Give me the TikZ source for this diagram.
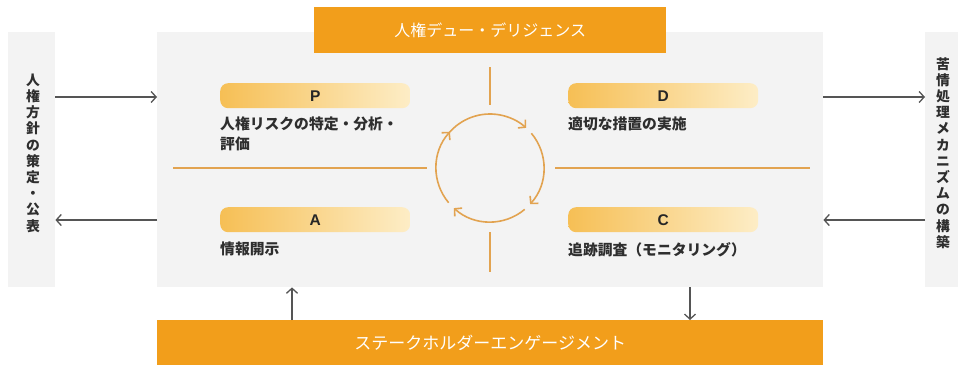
\documentclass[tikz,border=0pt]{standalone}
\usepackage{fontspec}
\setmainfont{Noto Sans CJK JP}
\newfontfamily\latinb{Liberation Sans}
\usetikzlibrary{arrows.meta,calc}
\definecolor{orangebar}{HTML}{F29E1B}
\definecolor{panel}{HTML}{F3F3F3}
\definecolor{gradL}{HTML}{F6BF55}
\definecolor{gradR}{HTML}{FDEDC6}
\definecolor{cyc}{HTML}{E2A350}
\definecolor{ink}{HTML}{2E2E2E}
\definecolor{arrowgray}{HTML}{555555}
\begin{document}
\begin{tikzpicture}[x=1pt,y=-1pt,
  panelbox/.style={fill=panel, draw=none, inner sep=0pt, anchor=north west},
  orangebox/.style={fill=orangebar, draw=none, inner sep=0pt, anchor=north west, text=white,
    font=\fontsize{16}{18}\selectfont},
  gradbar/.style={left color=gradL, right color=gradR, draw=none, rounded corners=8pt,
    inner sep=0pt, anchor=north west, minimum width=190pt, minimum height=25pt,
    font=\latinb\bfseries\fontsize{15.5}{18}\selectfont, text=black!85},
  bodytext/.style={anchor=north west, inner sep=0pt, align=left, text=ink,
    font=\bfseries\fontsize{14.8}{20}\selectfont},
  vtext/.style={inner sep=0pt, align=center, text=ink,
    font=\bfseries\fontsize{13.8}{16.2}\selectfont},
  garrow/.style={draw=arrowgray, line width=1.3pt, -{Straight Barb[length=5pt,width=11pt]}},
  cycline/.style={draw=cyc, line width=2.4pt},
  cycarc/.style={draw=cyc, line width=1.6pt, -{Straight Barb[length=5pt,width=11pt]}}
]
\useasboundingbox (0,0) rectangle (958,367);
\fill[white] (0,0) rectangle (958,367);

% panels
\node[panelbox, minimum width=47pt, minimum height=255pt] (lbox) at (8,32) {};
\node[panelbox, minimum width=666pt, minimum height=255pt] (main) at (157,32) {};
\node[panelbox, minimum width=33pt, minimum height=255pt] (rbox) at (925,32) {};

% orange bars
\node[orangebox, minimum width=352pt, minimum height=46pt] (tbar) at (314,7) {人権デュー・デリジェンス};
\node[orangebox, minimum width=666pt, minimum height=45pt, font=\fontsize{17}{18}\selectfont] (bbar) at (157,320) {ステークホルダーエンゲージメント};

% vertical texts
\node[vtext] (ltext) at (33,153) {人\\権\\方\\針\\の\\策\\定\\・\\公\\表};
\node[vtext] (rtext) at (943,153) {苦\\情\\処\\理\\メ\\カ\\ニ\\ズ\\ム\\の\\構\\築};

% gradient bars
\node[gradbar] (P) at (220,83) {P};
\node[gradbar] (D) at (568,83) {D};
\node[gradbar] (A) at (220,207) {A};
\node[gradbar] (C) at (568,207) {C};

% body texts
\node[bodytext] (Ptext) at (220,117) {人権リスクの特定・分析・\\評価};
\node[bodytext] (Dtext) at (568,117) {適切な措置の実施};
\node[bodytext] (Atext) at (220,242) {情報開示};
\node[bodytext] (Ctext) at (568,242) {追跡調査（モニタリング）};

% gray arrows
\coordinate (r1) at (0,97);
\coordinate (r2) at (0,220);
\coordinate (cu) at (292,0);
\coordinate (cd) at (690,0);
\draw[garrow] (lbox.east |- r1) -- (main.west |- r1);
\draw[garrow] (main.west |- r2) -- (lbox.east |- r2);
\draw[garrow] (main.east |- r1) -- (rbox.west |- r1);
\draw[garrow] (rbox.west |- r2) -- (main.east |- r2);
\draw[garrow] (bbar.north -| cu) -- (main.south -| cu);
\draw[garrow] (main.south -| cd) -- (bbar.north -| cd);

% cross lines
\coordinate (cc) at (490,168);
\draw[cycline] (173,168) -- (427,168);
\draw[cycline] (555,168) -- (810,168);
\draw[cycline] (490,67) -- (490,105);
\draw[cycline] (490,232) -- (490,272);

% cycle arcs (absolute angles, clockwise on screen)
\draw[cycarc] ($(cc)+(140:54pt)$) arc[start angle=140, end angle=48, radius=54pt];
\draw[cycarc] ($(cc)+(40:54pt)$) arc[start angle=40, end angle=-42, radius=54pt];
\draw[cycarc] ($(cc)+(-50:54pt)$) arc[start angle=-50, end angle=-132, radius=54pt];
\draw[cycarc] ($(cc)+(-140:54pt)$) arc[start angle=-140, end angle=-222, radius=54pt];
\end{tikzpicture}
\end{document}
